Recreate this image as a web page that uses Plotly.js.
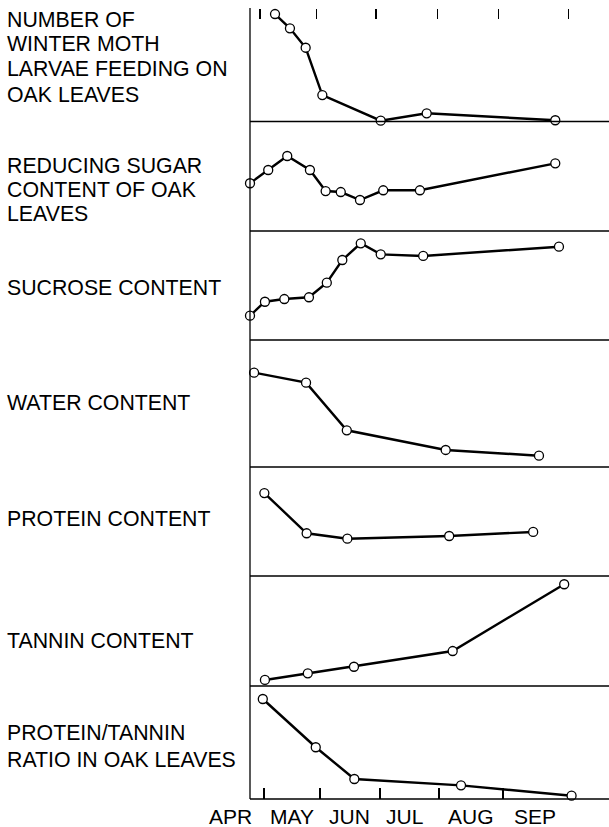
<!DOCTYPE html>
<html><head><meta charset="utf-8">
<script src="https://cdn.plot.ly/plotly-3.0.1.min.js"></script>
<style>html,body{margin:0;padding:0;background:#fff}#chart{width:609px;height:827px}</style>
</head><body><div id="chart"></div>
<script>
// ---- data (x = days after 1 April, y = relative level within panel, 0-100) ----
const larvaeDays   = [36.7, 44.4, 52.5, 61.1, 91.2, 114.9, 181.2];
const larvaeVals   = [94.7, 82.1, 65.0, 23.3, 0.7, 7.2, 1.1];

const redSugarDays = [23.8, 33.2, 43.0, 54.7, 62.8, 70.6, 80.5, 92.5, 111.4, 181.2];
const redSugarVals = [43.6, 55.7, 68.5, 55.7, 36.5, 35.6, 28.3, 37.2, 37.2, 61.8];

const sucroseDays  = [23.8, 31.5, 41.5, 54.2, 63.4, 71.4, 80.9, 91.2, 113.1, 183.1];
const sucroseVals  = [22.3, 35.1, 37.6, 39.2, 52.6, 73.4, 88.7, 78.6, 77.1, 85.6];

const waterDays    = [25.9, 52.7, 73.7, 124.7, 172.8];
const waterVals    = [74.3, 66.4, 28.9, 13.4, 8.9];

const proteinDays  = [31.2, 53.0, 74.0, 126.5, 169.8];
const proteinVals  = [76.1, 39.2, 34.2, 36.7, 40.4];

const tanninDays   = [31.5, 53.6, 77.4, 128.3, 185.8];
const tanninVals   = [5.5, 11.5, 17.5, 31.8, 92.5];

const ratioDays    = [30.4, 57.7, 77.6, 132.6, 189.6];
const ratioVals    = [88.5, 45.8, 17.7, 12.1, 2.9];

const monthLabels  = ["APR", "MAY", "JUN", "JUL", "AUG", "SEP"];
const monthCenters = [13.5, 45.3, 75.0, 103.7, 137.5, 170.6];
const bottomTicks  = [31.0, 59.9, 90.8, 121.2, 154.2];
const topTicks     = [29.0, 58.2, 88.8, 120.6, 151.8, 187.9];

const panelLabels = [
  ["NUMBER OF", "WINTER MOTH", "LARVAE FEEDING ON", "OAK LEAVES"],
  ["REDUCING SUGAR", "CONTENT OF OAK", "LEAVES"],
  ["SUCROSE CONTENT"],
  ["WATER CONTENT"],
  ["PROTEIN CONTENT"],
  ["TANNIN CONTENT"],
  ["PROTEIN/TANNIN", "RATIO IN OAK LEAVES"]
];

// ---- layout geometry ----
const W = 609, H = 827, T = 8, B = 28, L = 250;
const plotH = H - T - B;
const bounds = [8, 121.5, 231, 340, 467, 576, 686, 799];       // panel edges, px
const labelY = [[20.3, 44.3, 69.3, 95.3], [166.3, 189.5, 213.7], [288.3], [402.8], [518.7], [640.5], [733.3, 760]];
const pf = py => (H - B - py) / plotH;
const xRange = [23.8, 208.9];
const xPaper = d => (d - xRange[0]) / (xRange[1] - xRange[0]);

const series = [
  [larvaeDays, larvaeVals], [redSugarDays, redSugarVals], [sucroseDays, sucroseVals],
  [waterDays, waterVals], [proteinDays, proteinVals], [tanninDays, tanninVals], [ratioDays, ratioVals]
];

const FONT = "Liberation Sans, Arial, Helvetica, sans-serif";
const data = series.map((s, i) => ({
  type: "scatter", mode: "lines+markers",
  x: s[0], y: s[1], xaxis: "x", yaxis: i === 0 ? "y" : "y" + (i + 1),
  line: {color: "#000", width: 2.4},
  marker: {symbol: "circle", size: 9, color: "#fff", line: {color: "#000", width: 1.3}},
  cliponaxis: false, hoverinfo: "skip", showlegend: false
}));
data.push({type: "scatter", mode: "markers", x: [], y: [], xaxis: "x2", yaxis: "y", showlegend: false});

const layout = {
  width: W, height: H, margin: {l: L, r: 0, t: T, b: B},
  paper_bgcolor: "#fff", plot_bgcolor: "#fff", showlegend: false,
  font: {family: FONT, size: 21, color: "#000"},
  xaxis: {range: xRange, anchor: "free", position: 0, side: "bottom",
          tickmode: "array", tickvals: bottomTicks, ticks: "inside", ticklen: 11, tickwidth: 1.3, tickcolor: "#000",
          showticklabels: false, showgrid: false, zeroline: false, showline: false, fixedrange: true},
  xaxis2: {range: xRange, overlaying: "x", anchor: "free", position: 1, side: "top",
           tickmode: "array", tickvals: topTicks, ticks: "inside", ticklen: 10, tickwidth: 1.3, tickcolor: "#000",
           showticklabels: false, showgrid: false, zeroline: false, showline: false, fixedrange: true},
  shapes: [], annotations: []
};
for (let i = 0; i < 7; i++) {
  layout[i === 0 ? "yaxis" : "yaxis" + (i + 1)] = {
    domain: [pf(bounds[i + 1]), pf(bounds[i])], range: [0, 100], visible: false, fixedrange: true
  };
}
// panel separators and left axis line
for (let i = 1; i < bounds.length; i++) {
  layout.shapes.push({type: "line", xref: "paper", yref: "paper", x0: 0, x1: 1, y0: pf(bounds[i]), y1: pf(bounds[i]),
                      line: {color: "#000", width: 1.3}});
}
layout.shapes.push({type: "line", xref: "paper", yref: "paper", x0: 0, x1: 0, y0: 0, y1: 1, line: {color: "#000", width: 1.3}});

// panel labels
panelLabels.forEach((lines, i) => {
  lines.forEach((txt, j) => {
    layout.annotations.push({text: txt, xref: "paper", yref: "paper", x: (5 - L) / (W - L), y: pf(labelY[i][j]),
      xanchor: "left", yanchor: "middle", align: "left", showarrow: false, font: {family: FONT, size: 21.3, color: "#000"}});
  });
});
// month labels
monthLabels.forEach((m, i) => {
  layout.annotations.push({text: m, xref: "paper", yref: "paper", x: xPaper(monthCenters[i]), y: pf(816.7),
    xanchor: "center", yanchor: "middle", showarrow: false, font: {family: FONT, size: 21, color: "#000"}});
});

Plotly.newPlot("chart", data, layout, {staticPlot: true, displayModeBar: false});
</script></body></html>
